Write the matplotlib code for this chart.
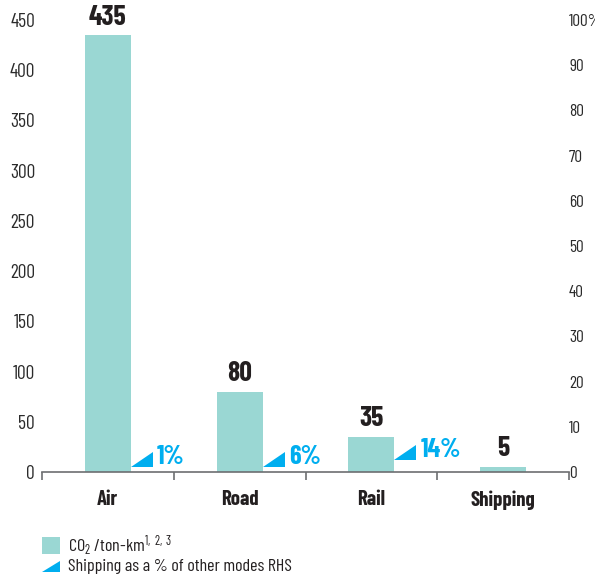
import matplotlib

matplotlib.use("Agg")
import matplotlib.pyplot as plt
from matplotlib import font_manager as fm
from matplotlib.patches import Polygon, Rectangle

# data
MODES = ["Air", "Road", "Rail", "Shipping"]
CO2_PER_TON_KM = [435, 80, 35, 5]
SHIPPING_PCT = [1, 6, 14, None]  # shipping as % of the other modes (RHS)
LEFT_TICKS = [0, 50, 100, 150, 200, 250, 300, 350, 400, 450]
RIGHT_TICKS = [0, 10, 20, 30, 40, 50, 60, 70, 80, 90, 100]

BAR_COLOR = "#9AD7D3"
BLUE = "#00AEEF"
DARK = "#231F20"
AXIS = "#6D6E71"

installed = {f.name for f in fm.fontManager.ttflist}
cond = next((n for n in ["Barlow Condensed", "Roboto Condensed", "Archivo Narrow",
                         "Sofia Sans Condensed"] if n in installed), "DejaVu Sans")
FONT = [cond, "DejaVu Sans"]

plt.rcParams["font.family"] = FONT
plt.rcParams["mathtext.fontset"] = "custom"
plt.rcParams["mathtext.rm"] = cond
plt.rcParams["mathtext.it"] = cond

W, H = 595, 577
fig = plt.figure(figsize=(W / 100, H / 100), dpi=100)
ax = fig.add_axes([42 / W, (H - 472) / H, 527 / W, 452 / H])
ax2 = ax.twinx()

x = list(range(len(MODES)))
bw = 0.35
ax.bar(x, CO2_PER_TON_KM, width=bw, color=BAR_COLOR, zorder=2)

ax.set_xlim(-0.5, 3.5)
ax.set_ylim(0, 450)
ax2.set_ylim(0, 100)

for a in (ax, ax2):
    for s in a.spines.values():
        s.set_visible(False)
ax.spines["bottom"].set_visible(True)
ax.spines["bottom"].set_color(AXIS)
ax.spines["bottom"].set_linewidth(1.2)

ax.set_yticks(LEFT_TICKS)
ax.set_yticklabels([str(v) for v in LEFT_TICKS])
ax2.set_yticks(RIGHT_TICKS)
ax2.set_yticklabels([f"{v}%" if v == 100 else str(v) for v in RIGHT_TICKS])
ax.tick_params(axis="y", length=0, pad=5, labelsize=14, labelcolor="#2b2b2b")
ax2.tick_params(axis="y", length=0, pad=0, labelsize=12.5, labelcolor="#2b2b2b")

# x ticks sit between the groups, labels centred under the bars
ax.set_xticks([-0.5, 0.5, 1.5, 2.5, 3.5])
ax.set_xticklabels([])
ax.tick_params(axis="x", length=6, width=1.2, color=AXIS, direction="out")
ax.set_xticks(x, minor=True)
ax.set_xticklabels(MODES, minor=True, fontsize=15, fontweight="bold", color=DARK)
ax.tick_params(axis="x", which="minor", length=0, pad=13)

for xi, v in zip(x, CO2_PER_TON_KM):
    ax.annotate(str(v), (xi, v), xytext=(0, 4), textcoords="offset points",
                ha="center", va="bottom", fontsize=20, fontweight="bold", color=DARK)

# triangle markers + shipping % labels (RHS)
for xi, p in zip(x, SHIPPING_PCT):
    if p is None:
        continue
    lift = 2.6 if p >= 10 else 1.0
    x0 = xi + bw / 2
    x1 = x0 + 0.167
    tri = Polygon([[x0, lift], [x1, lift], [x1, lift + 3.4]], closed=True,
                  color=BLUE, lw=0, zorder=3)
    ax2.add_patch(tri)
    ax2.text(x1 + 0.03, lift - 0.4, f"{p}%", ha="left", va="bottom",
             fontsize=19, fontweight="bold", color=BLUE)

# legend, drawn by hand at the bottom left
fig.add_artist(Rectangle((42 / W, 1 - 554 / H), 18 / W, 17 / H,
                         transform=fig.transFigure, color=BAR_COLOR, lw=0))
fig.add_artist(Polygon([[42 / W, 1 - 572 / H], [60 / W, 1 - 572 / H], [60 / W, 1 - 561 / H]],
                       closed=True, transform=fig.transFigure, color=BLUE, lw=0))
fig.text(68 / W, 1 - 546 / H, r"CO$_2$ /ton-km$^{1,\ 2,\ 3}$", ha="left", va="center",
         fontsize=13, color=DARK)
fig.text(68 / W, 1 - 566 / H, "Shipping as a % of other modes RHS", ha="left", va="center",
         fontsize=13, color=DARK)

fig.savefig("out.png", dpi=100)
